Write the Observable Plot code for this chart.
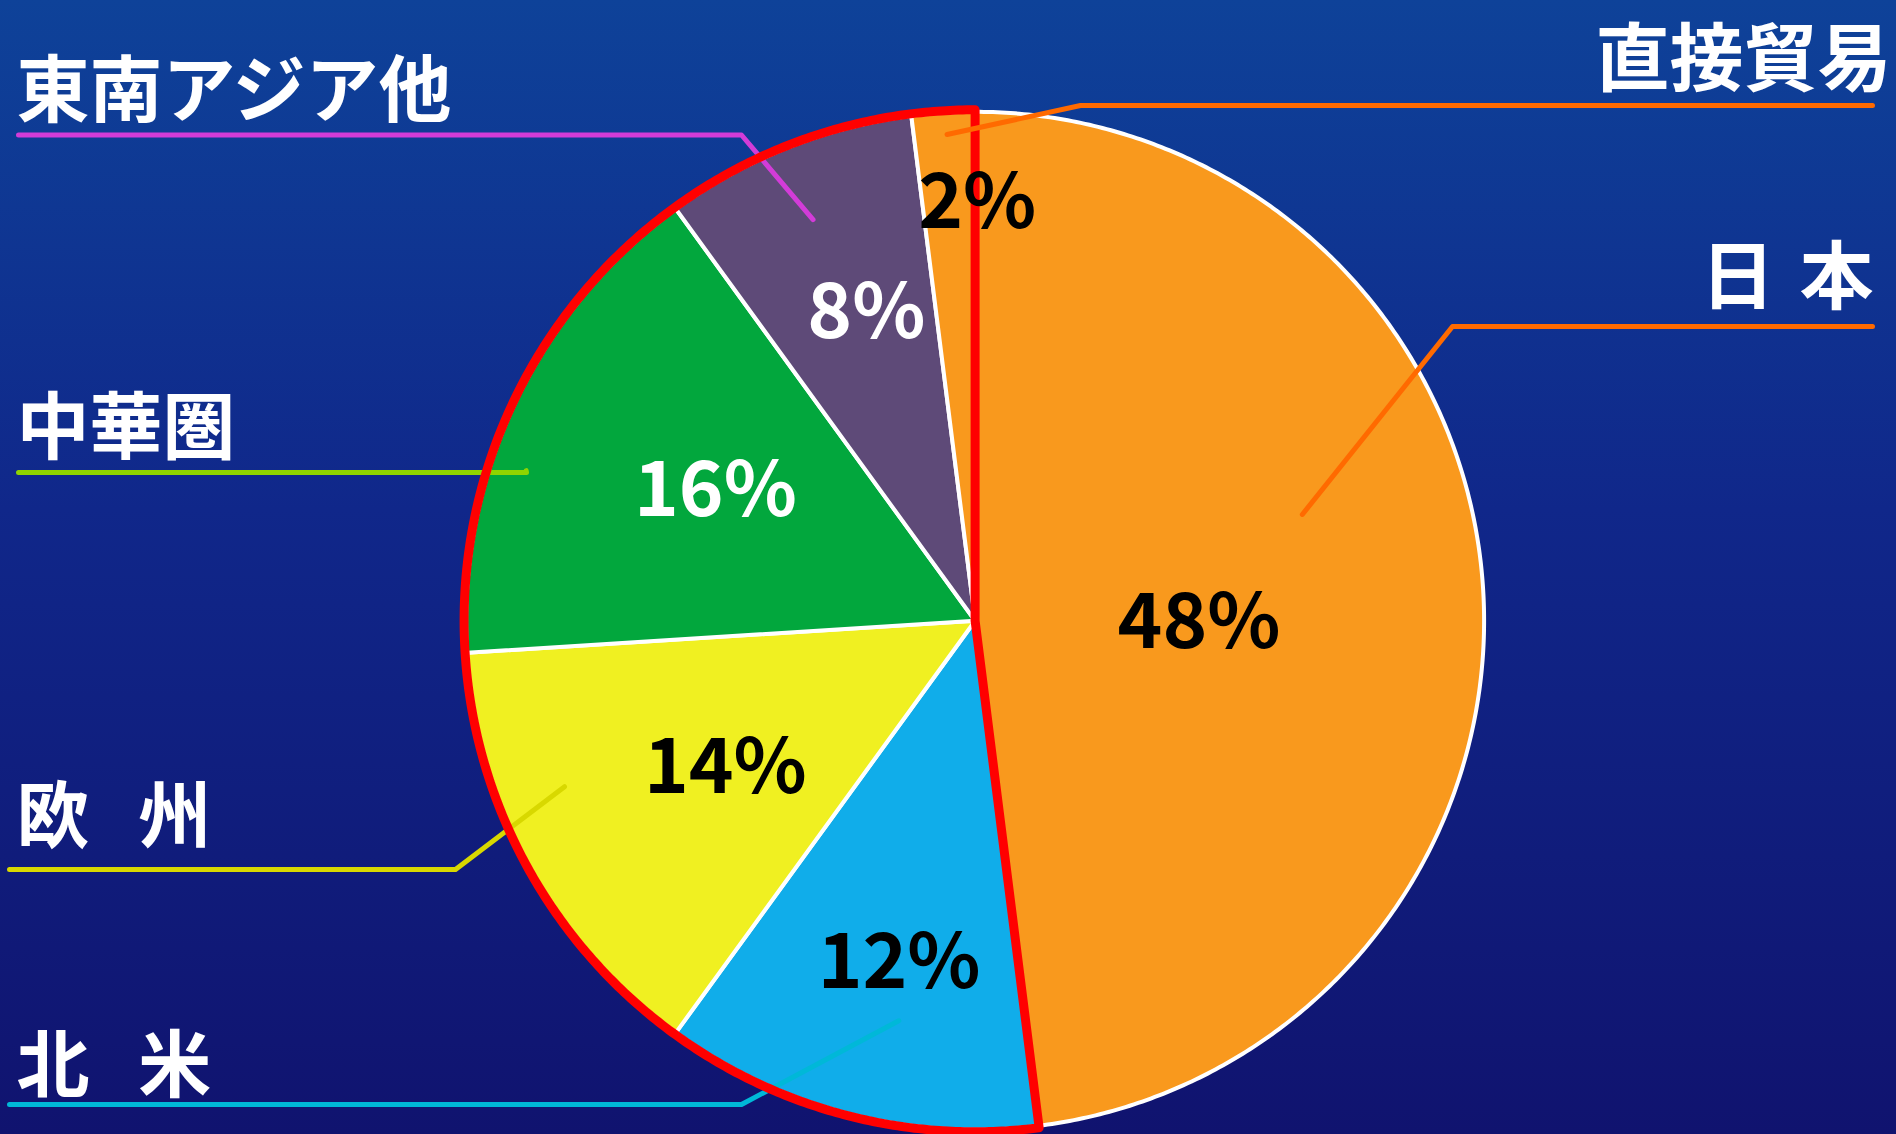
<!DOCTYPE html>
<html>
<head>
<meta charset="utf-8">
<script src="https://cdn.jsdelivr.net/npm/d3@7"></script>
<script src="https://cdn.jsdelivr.net/npm/@observablehq/plot@0.6"></script>
<style>
  html, body { margin: 0; padding: 0; }
  body { width: 1896px; height: 1134px; overflow: hidden;
         background: linear-gradient(to bottom, #0e4299 0%, #10278a 45%, #10136f 100%); }
  #chart svg { display: block; background: transparent; }
  #chart text { white-space: pre; }
</style>
</head>
<body>
<div id="chart"></div>
<script>
// ---- data ----
const categories = ["日本", "北米", "欧州", "中華圏", "東南アジア他", "直接貿易"];
const shares = [48, 12, 14, 16, 8, 2];
const labelNames = ["日\u2004本", "北\u2002\u2006米", "欧\u2002\u2006州", "中華圏", "東南アジア他", "直接貿易"];
const pctLabels = ["48%", "12%", "14%", "16%", "8%", "2%"];

// ---- styles ----
const sliceColors = ["#f9991d", "#10adea", "#f0f021", "#02a73d", "#5e4a78", "#f9991d"];
const leaderColors = ["#ff6a00", "#00b8d8", "#d8d800", "#8fd400", "#d23cd8", "#ff6a00"];
const pctColors = ["black", "black", "black", "white", "white", "black"];

// ---- layout ----
const W = 1896, H = 1134;
const CX = 974.6, CY = 620.3, R = 509;
// per-slice label placement: angle offset (deg) and radius fraction
const pctPlace = [[4.4, 0.44], [-1.9, 0.69], [-1.8, 0.57], [1.3, 0.57], [2.1, 0.64], [3.9, 0.82]];
// leader inner end: angle offset (deg) from slice mid, radius fraction
const leaderInner = [[-14.4, 0.676], [-3.6, 0.80], [6.8, 0.87], [-6.7, 0.93], [-0.4, 0.85], [0.3, 0.957]];
// leader horizontal: y, outer x, elbow x ; label: side, x, y
const leaderRow = [
  {y: 326, xo: 1872, xe: 1452, side: "right", lx: 1873, ly: 279},
  {y: 1104, xo: 9, xe: 741, side: "left", lx: 16, ly: 1067},
  {y: 869, xo: 9, xe: 455, side: "left", lx: 16, ly: 818},
  {y: 472, xo: 18, xe: 526, side: "left", lx: 16, ly: 429},
  {y: 134.5, xo: 18, xe: 741, side: "left", lx: 16, ly: 92},
  {y: 105, xo: 1872, xe: 1080, side: "right", lx: 1891, ly: 61}
];

const rad = d => d * Math.PI / 180;
const pt = (deg, r) => [CX + r * Math.sin(rad(deg)), CY - r * Math.cos(rad(deg))];

const arcs = d3.pie().sort(null).value(d => d)(shares);
const slices = arcs.map((a, i) => ({
  cat: categories[i],
  start: a.startAngle * 180 / Math.PI,
  end: a.endAngle * 180 / Math.PI
}));

// slice polygons
const sliceRows = [];
slices.forEach((s, i) => {
  const n = Math.max(8, Math.ceil((s.end - s.start) / 0.5));
  sliceRows.push({cat: s.cat, order: i, x: CX, y: CY});
  for (let k = 0; k <= n; k++) {
    const [x, y] = pt(s.start + (s.end - s.start) * k / n, R);
    sliceRows.push({cat: s.cat, order: i, x, y});
  }
  sliceRows.push({cat: s.cat, order: i, x: CX, y: CY});
});

// red outline around non-Japan share
const outline = [];
{
  const a0 = slices[1].start, a1 = 360;
  const n = 400;
  outline.push({x: CX, y: CY});
  for (let k = 0; k <= n; k++) {
    const [x, y] = pt(a0 + (a1 - a0) * k / n, R + 2);
    outline.push({x, y});
  }
  outline.push({x: CX, y: CY});
  const [x, y] = pt(a0, R + 2);
  outline.push({x, y});
}

// percent labels
const pctRows = slices.map((s, i) => {
  const mid = (s.start + s.end) / 2;
  const [x, y] = pt(mid + pctPlace[i][0], R * pctPlace[i][1]);
  return {text: pctLabels[i], x, y, color: pctColors[i]};
});

// leaders
const leaderRows = [];
slices.forEach((s, i) => {
  const mid = (s.start + s.end) / 2;
  const [xi, yi] = pt(mid + leaderInner[i][0], R * leaderInner[i][1]);
  const L = leaderRow[i];
  leaderRows.push({cat: s.cat, x: L.xo, y: L.y});
  leaderRows.push({cat: s.cat, x: L.xe, y: L.y});
  leaderRows.push({cat: s.cat, x: xi, y: yi});
});
const nameRows = categories.map((c, i) => ({
  text: labelNames[i], x: leaderRow[i].lx, y: leaderRow[i].ly, side: leaderRow[i].side
}));

const font = "'Noto Sans CJK JP', 'Noto Sans', sans-serif";

const chart = Plot.plot({
  width: W, height: H,
  margin: 0,
  x: {domain: [0, W], range: [0, W], axis: null},
  y: {domain: [0, H], range: [0, H], axis: null},
  color: {domain: categories, range: sliceColors},
  style: {background: "transparent", overflow: "visible"},
  marks: [
    Plot.line(sliceRows, {x: "x", y: "y", z: "cat", fill: "cat", stroke: "white", strokeWidth: 4, strokeLinejoin: "round", curve: "linear"}),
    Plot.line(leaderRows.filter(d => d.cat !== "日本" && d.cat !== "直接貿易"), {x: "x", y: "y", z: "cat", stroke: d => leaderColors[categories.indexOf(d.cat)], strokeWidth: 5}),
    Plot.line(outline, {x: "x", y: "y", stroke: "#ff0000", strokeWidth: 9, strokeLinejoin: "round"}),
    Plot.line(leaderRows.filter(d => d.cat === "日本" || d.cat === "直接貿易"), {x: "x", y: "y", z: "cat", stroke: d => leaderColors[categories.indexOf(d.cat)], strokeWidth: 5}),
    Plot.text(pctRows, {x: "x", y: "y", text: "text", fill: "color", fontSize: 76, fontWeight: "bold", fontFamily: font, textAnchor: "middle", lineAnchor: "middle"}),
    Plot.text(nameRows.filter(d => d.side === "left"), {x: "x", y: "y", text: "text", fill: "white", fontSize: 73, fontWeight: "bold", fontFamily: font, textAnchor: "start", lineAnchor: "middle"}),
    Plot.text(nameRows.filter(d => d.side === "right"), {x: "x", y: "y", text: "text", fill: "white", fontSize: 74, fontWeight: "bold", fontFamily: font, textAnchor: "end", lineAnchor: "middle"})
  ]
});
document.getElementById("chart").appendChild(chart);
</script>
</body>
</html>
